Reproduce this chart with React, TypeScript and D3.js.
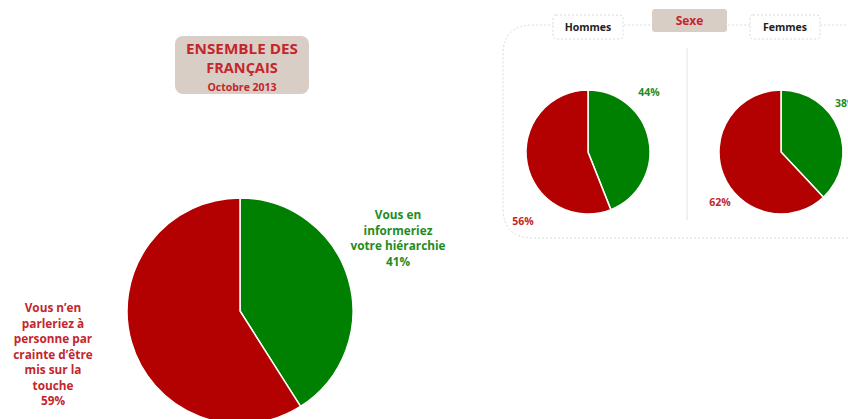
import React from "react";
import * as d3 from "d3";

const mainLabels = ["Vous en informeriez votre hiérarchie", "Vous n’en parleriez à personne par crainte d’être mis sur la touche"];
const mainValues = [41, 59];
const groupNames = ["Hommes", "Femmes"];
const groupValues = [[44, 56], [38, 62]];
const sliceColors = ["#008000", "#b30000"];
const labelColors = ["#1f8c1f", "#c4262b"];

const FONT = "'Open Sans', Lato, sans-serif";

function Pie({ cx, cy, r, values }: { cx: number; cy: number; r: number; values: number[] }) {
  const arcs = d3.pie<number>().sort(null)(values);
  const arc = d3.arc<d3.PieArcDatum<number>>().innerRadius(0).outerRadius(r);
  return (
    <g transform={`translate(${cx},${cy})`}>
      {arcs.map((a, i) => (
        <path key={i} d={arc(a) || ""} fill={sliceColors[i]} stroke="#fff" strokeWidth={1.5} />
      ))}
    </g>
  );
}

export default function App() {
  const W = 848, H = 419;
  const redLines = ["Vous n’en", "parleriez à", "personne par", "crainte d’être", "mis sur la", "touche", `${mainValues[1]}%`];
  const greenLines = ["Vous en", "informeriez", "votre hiérarchie", `${mainValues[0]}%`];
  const smallCx = [588, 781];
  return (
    <svg width={W} height={H} style={{ position: "absolute", left: 0, top: 0 }} fontFamily={FONT}>
      <rect width={W} height={H} fill="#fff" />
      {/* Title box */}
      <rect x={175} y={36} width={134} height={58} rx={8} fill="#d8cec6" />
      <text x={242} y={54} textAnchor="middle" fontSize={14.5} fontWeight="bold" fill="#c4262b" textLength={112} lengthAdjust="spacingAndGlyphs">ENSEMBLE DES</text>
      <text x={242} y={73} textAnchor="middle" fontSize={14.5} fontWeight="bold" fill="#c4262b">FRANÇAIS</text>
      <text x={242} y={91} textAnchor="middle" fontSize={10.5} fontWeight="bold" fill="#c4262b">Octobre 2013</text>

      {/* Main pie */}
      <Pie cx={240} cy={311} r={113} values={mainValues} />
      <g fontSize={11.8} fontWeight="bold" fill={labelColors[0]} textAnchor="middle">
        {greenLines.map((l, i) => (
          <text key={i} x={398} y={219 + i * 15.7}>{l}</text>
        ))}
      </g>
      <g fontSize={11.8} fontWeight="bold" fill={labelColors[1]} textAnchor="middle">
        {redLines.map((l, i) => (
          <text key={i} x={53} y={312 + i * 15.5}>{l}</text>
        ))}
      </g>

      {/* Sexe panel */}
      <path d={`M 848 238 L 533 238 Q 503 238 503 208 L 503 55 Q 503 25 533 25 L 848 25`} fill="none" stroke="#d9d9d9" strokeWidth={1} strokeDasharray="2,2" />
      <line x1={687} x2={687} y1={48} y2={220} stroke="#e3e3e3" strokeWidth={1} />
      <rect x={652} y={9} width={75} height={23} rx={3} fill="#d8cec6" />
      <text x={689.5} y={25} textAnchor="middle" fontSize={12} fontWeight="bold" fill="#c4262b">Sexe</text>
      {groupNames.map((g, i) => {
        const bx = i === 0 ? 553 : 750;
        return (
          <g key={g}>
            <rect x={bx} y={15} width={70} height={24} rx={3} fill="#fff" stroke="#d9d9d9" strokeDasharray="2,2" />
            <text x={bx + 35} y={31} textAnchor="middle" fontSize={10.5} fontWeight="bold" fill="#222">{g}</text>
            <Pie cx={smallCx[i]} cy={152} r={62} values={groupValues[i]} />
          </g>
        );
      })}
      <text x={649} y={96} textAnchor="middle" fontSize={10.5} fontWeight="bold" fill={labelColors[0]}>{groupValues[0][0]}%</text>
      <text x={523} y={225} textAnchor="middle" fontSize={10.5} fontWeight="bold" fill={labelColors[1]}>{groupValues[0][1]}%</text>
      <text x={835} y={107} textAnchor="start" fontSize={10.5} fontWeight="bold" fill={labelColors[0]}>{groupValues[1][0]}%</text>
      <text x={720} y={206} textAnchor="middle" fontSize={10.5} fontWeight="bold" fill={labelColors[1]}>{groupValues[1][1]}%</text>
    </svg>
  );
}
